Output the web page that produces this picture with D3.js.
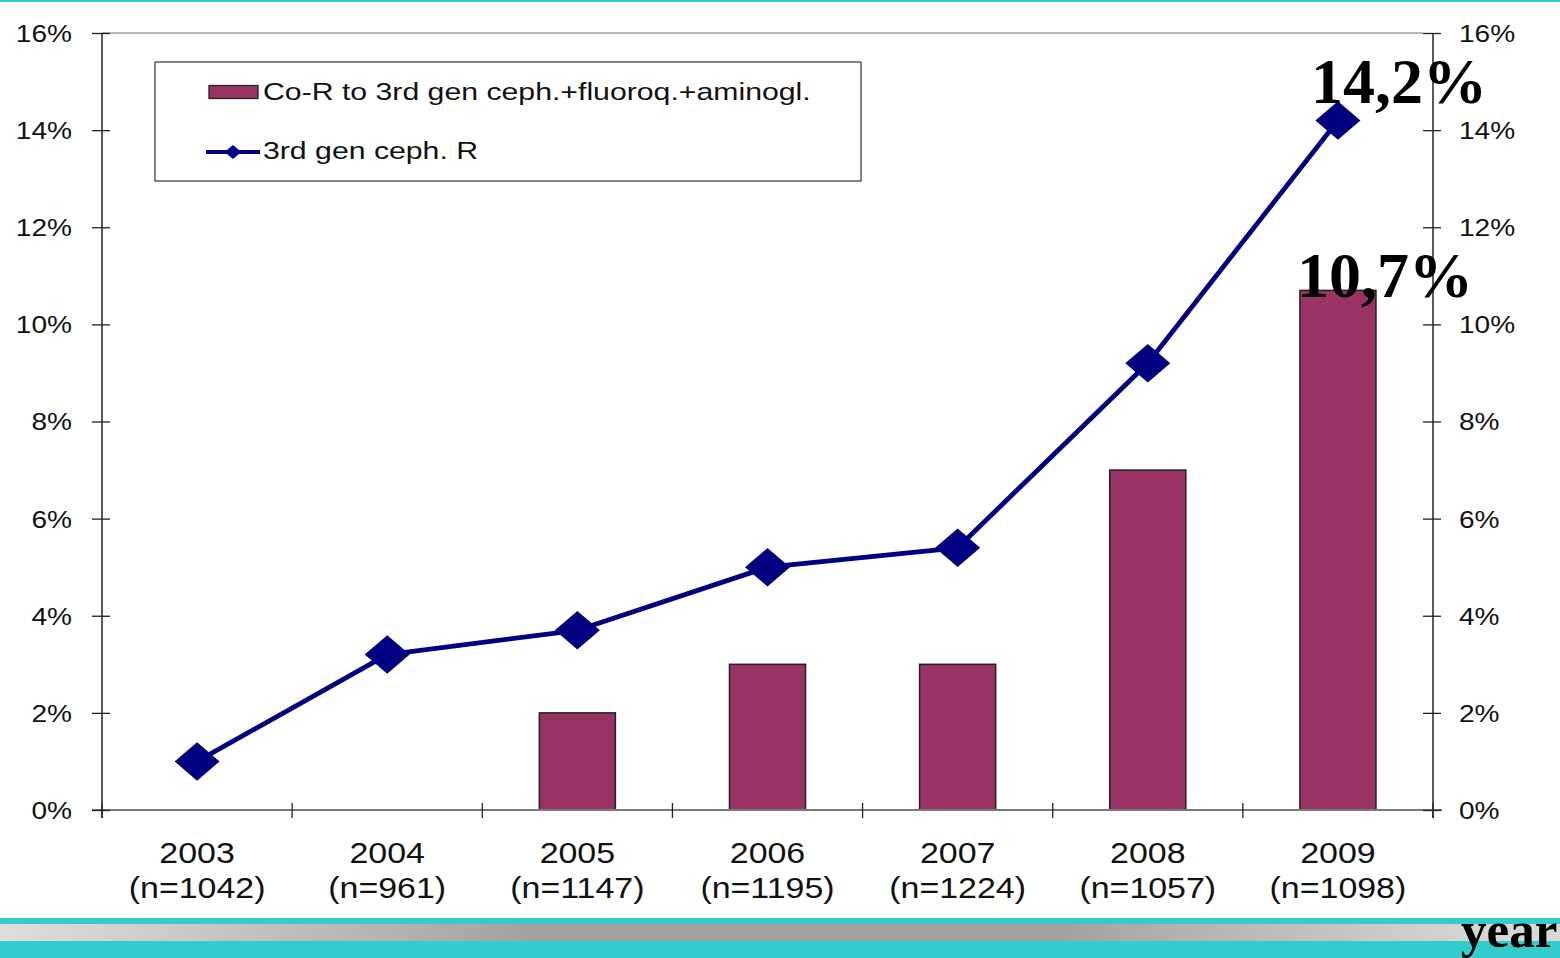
<!DOCTYPE html>
<html>
<head>
<meta charset="utf-8">
<script src="https://cdn.jsdelivr.net/npm/d3@7"></script>
<style>
  html, body { margin: 0; padding: 0; background: #fff; }
  svg { display: block; }
  .sans { font-family: "Liberation Sans", Arial, sans-serif; }
  .serif { font-family: "Liberation Serif", "Times New Roman", serif; font-weight: bold; }
</style>
</head>
<body>
<svg id="chart" width="1560" height="958"></svg>
<script>
// ---- data ----
const years = ["2003", "2004", "2005", "2006", "2007", "2008", "2009"];
const sampleSizes = ["(n=1042)", "(n=961)", "(n=1147)", "(n=1195)", "(n=1224)", "(n=1057)", "(n=1098)"];
const coResistance = [null, null, 2.0, 3.0, 3.0, 7.0, 10.7];     // bars, %
const cephResistance = [1.0, 3.2, 3.7, 5.0, 5.4, 9.2, 14.2];    // line, %
const yTicks = [0, 2, 4, 6, 8, 10, 12, 14, 16];
const seriesNames = ["Co-R to 3rd gen ceph.+fluoroq.+aminogl.", "3rd gen ceph. R"];
const callouts = [{ label: "14,2%", year: "2009", value: 14.2 }, { label: "10,7%", year: "2009", value: 10.7 }];
const axisTitle = "year";

// ---- layout ----
const W = 1560, H = 958;
const X0 = 102, X1 = 1433, Y0 = 810, Y1 = 33;
const SX = 1.17; // horizontal text stretch of the original slide
const svg = d3.select("#chart");

const x = d3.scaleBand().domain(years).range([X0, X1]).paddingInner(0.6).paddingOuter(0.3);
const y = d3.scaleLinear().domain([0, 16]).range([Y0, Y1]);
const cx = d => x(d) + x.bandwidth() / 2;
const fmt = d => d + "%";

// background decorations (slide bands)
const defs = svg.append("defs");
const grad = defs.append("linearGradient").attr("id", "band").attr("x1", "0").attr("x2", "1").attr("y1", "0").attr("y2", "0");
[[0, "#dedede"], [0.34, "#a2a2a2"], [0.68, "#a2a2a2"], [0.95, "#d6d6d6"], [1, "#d8d8d8"]]
  .forEach(([o, c]) => grad.append("stop").attr("offset", o).attr("stop-color", c));
svg.append("rect").attr("x", 0).attr("y", 0).attr("width", W).attr("height", 2).attr("fill", "#33cccc");
svg.append("rect").attr("x", 0).attr("y", 918).attr("width", W).attr("height", 6).attr("fill", "#33cccc");
svg.append("rect").attr("x", 0).attr("y", 924).attr("width", W).attr("height", 17).attr("fill", "url(#band)");
svg.append("rect").attr("x", 0).attr("y", 941).attr("width", W).attr("height", 17).attr("fill", "#33cccc");

// plot top border
svg.append("line").attr("x1", X0).attr("x2", X1 - 10).attr("y1", Y1).attr("y2", Y1)
  .attr("stroke", "#a0a0a0").attr("stroke-width", 1.5);

// bars
svg.append("g").selectAll("rect")
  .data(years.map((yr, i) => ({ yr, v: coResistance[i] })).filter(d => d.v != null))
  .join("rect")
  .attr("x", d => x(d.yr))
  .attr("width", x.bandwidth())
  .attr("y", d => y(d.v))
  .attr("height", d => y(0) - y(d.v))
  .attr("fill", "#993366")
  .attr("stroke", "#222")
  .attr("stroke-width", 1.5);

// x axis line
svg.append("line").attr("x1", X0 - 10).attr("x2", X1 + 9).attr("y1", Y0).attr("y2", Y0)
  .attr("stroke", "#7a7a7a").attr("stroke-width", 2);

// category boundary ticks
svg.append("g").selectAll("line")
  .data(d3.range(years.length + 1))
  .join("line")
  .attr("x1", i => X0 + i * x.step()).attr("x2", i => X0 + i * x.step())
  .attr("y1", Y0 - 7).attr("y2", Y0 + 8)
  .attr("stroke", "#222").attr("stroke-width", 1.3);

// x axis labels
const gx = svg.append("g").attr("transform", `translate(0,${Y0})`)
  .call(d3.axisBottom(x).tickSize(0).tickFormat(d => d));
gx.attr("font-family", null).attr("font-size", null);
gx.select(".domain").remove();
gx.selectAll(".tick text").each(function (d, i) {
  const t = d3.select(this);
  t.text(null).attr("y", 0).attr("dy", null).attr("class", "sans")
    .attr("font-size", 29).attr("text-anchor", "middle").attr("fill", "#111")
    .attr("transform", `scale(${SX},1)`);
  t.append("tspan").attr("x", 0).attr("y", 53).text(years[i]);
  t.append("tspan").attr("x", 0).attr("y", 88).text(sampleSizes[i]);
});

// left axis
const gl = svg.append("g").attr("transform", `translate(${X0},0)`)
  .call(d3.axisLeft(y).tickValues(yTicks).tickSize(10).tickFormat(fmt));
gl.attr("font-family", null).attr("font-size", null);
gl.select(".domain").attr("d", `M0,${Y1}V${Y0 + 8}`).attr("stroke", "#222").attr("stroke-width", 1.5);
gl.selectAll(".tick line").attr("x1", 8).attr("x2", -10).attr("stroke", "#222").attr("stroke-width", 1.3);
gl.selectAll(".tick text").attr("x", null).attr("dy", "0.35em").attr("class", "sans")
  .attr("font-size", 24).attr("fill", "#111").attr("text-anchor", "end")
  .attr("transform", `translate(-30,0) scale(${SX},1)`);

// right axis
const gr = svg.append("g").attr("transform", `translate(${X1},0)`)
  .call(d3.axisRight(y).tickValues(yTicks).tickSize(8).tickFormat(fmt));
gr.attr("font-family", null).attr("font-size", null);
gr.select(".domain").attr("d", `M0,${Y1}V${Y0 + 8}`).attr("stroke", "#222").attr("stroke-width", 1.5);
gr.selectAll(".tick line").attr("x1", -10).attr("x2", 8).attr("stroke", "#222").attr("stroke-width", 1.3);
gr.selectAll(".tick text").attr("x", null).attr("dy", "0.35em").attr("class", "sans")
  .attr("font-size", 24).attr("fill", "#111").attr("text-anchor", "start")
  .attr("transform", `translate(26,0) scale(${SX},1)`);

// line series
const pts = years.map((yr, i) => ({ yr, v: cephResistance[i] }));
svg.append("path").datum(pts)
  .attr("d", d3.line().x(d => cx(d.yr)).y(d => y(d.v)))
  .attr("fill", "none").attr("stroke", "#000080").attr("stroke-width", 4.8)
  .attr("stroke-linejoin", "round");
const diamond = d3.symbol(d3.symbolSquare, 740)();
svg.append("g").selectAll("path")
  .data(pts).join("path")
  .attr("d", diamond)
  .attr("transform", d => `translate(${cx(d.yr)},${y(d.v)}) scale(${SX},1) rotate(45)`)
  .attr("fill", "#000080");

// legend
const lg = svg.append("g");
lg.append("rect").attr("x", 155).attr("y", 62).attr("width", 706).attr("height", 119)
  .attr("fill", "#fff").attr("stroke", "#333").attr("stroke-width", 1.2);
lg.append("rect").attr("x", 209).attr("y", 85.5).attr("width", 49).attr("height", 13)
  .attr("fill", "#993366").attr("stroke", "#222").attr("stroke-width", 1.3);
lg.append("line").attr("x1", 206).attr("x2", 260).attr("y1", 152).attr("y2", 152)
  .attr("stroke", "#000080").attr("stroke-width", 4);
lg.append("path").attr("d", d3.symbol(d3.symbolSquare, 100)())
  .attr("transform", `translate(233,152) scale(${SX},1) rotate(45)`).attr("fill", "#000080");
lg.selectAll("text.lt").data(seriesNames).join("text").attr("class", "lt sans")
  .attr("transform", (d, i) => `translate(263,${i === 0 ? 100 : 159}) scale(1.26,1)`)
  .attr("font-size", 24).attr("fill", "#111").text(d => d);

// callouts
svg.append("g").selectAll("text").data(callouts).join("text")
  .attr("class", "serif")
  .attr("x", (d, i) => i === 0 ? 1311 : 1297)
  .attr("y", d => y(d.value) - (d.value > 12 ? 17 : -7))
  .attr("font-size", 64).attr("fill", "#000")
  .text(d => d.label);

// axis title
svg.append("text").attr("class", "serif").attr("x", 1461).attr("y", 947)
  .attr("font-size", 51).attr("fill", "#000")
  .text(axisTitle);
</script>
</body>
</html>
